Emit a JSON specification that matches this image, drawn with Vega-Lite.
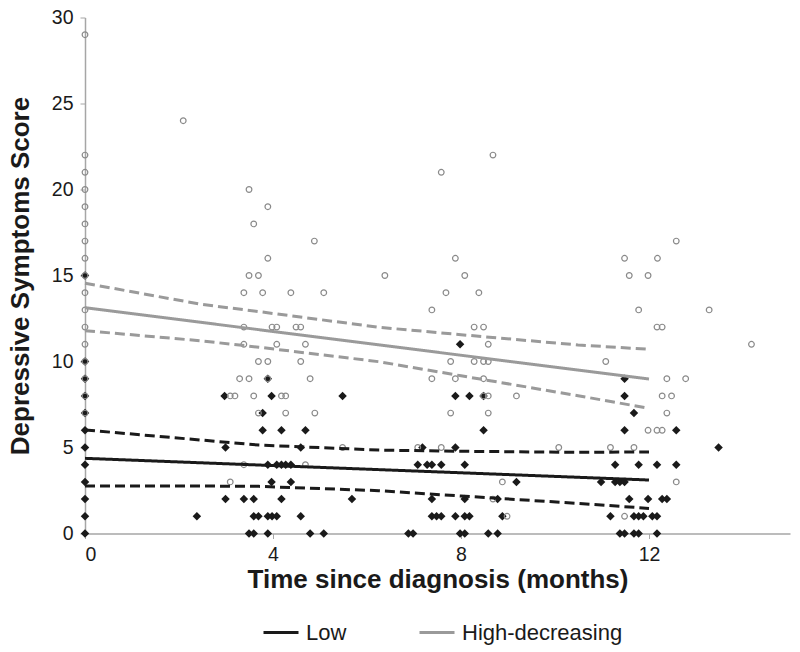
{
  "$schema": "https://vega.github.io/schema/vega-lite/v6.json",
  "autosize": "none",
  "width": 705,
  "height": 516,
  "padding": {"left": 85, "top": 17.5, "right": 10, "bottom": 118.5},
  "background": "white",
  "config": {
    "view": {"stroke": null},
    "font": "Liberation Sans",
    "axis": {
      "grid": false,
      "domainColor": "#a6a6a6",
      "domainWidth": 1.5,
      "tickColor": "#a6a6a6",
      "tickSize": 5,
      "labelFont": "Liberation Sans",
      "labelFontSize": 19.5,
      "labelColor": "#1a1a1a",
      "titleFont": "Liberation Sans",
      "titleFontSize": 26,
      "titleFontWeight": "bold",
      "titleColor": "#1a1a1a"
    }
  },
  "datasets": {
    "high": [
      {"t": 0, "s": 29}, {"t": 0, "s": 22}, {"t": 0, "s": 21}, {"t": 0, "s": 20}, {"t": 0, "s": 19},
      {"t": 0, "s": 18}, {"t": 0, "s": 17}, {"t": 0, "s": 16}, {"t": 0, "s": 15}, {"t": 0, "s": 14},
      {"t": 0, "s": 13}, {"t": 0, "s": 12}, {"t": 0, "s": 11}, {"t": 0, "s": 10}, {"t": 0, "s": 9},
      {"t": 0, "s": 8}, {"t": 0, "s": 7},
      {"t": 2.09, "s": 24},
      {"t": 3.49, "s": 20}, {"t": 3.89, "s": 19}, {"t": 3.59, "s": 18}, {"t": 4.88, "s": 17}, {"t": 3.89, "s": 16},
      {"t": 3.49, "s": 15}, {"t": 3.69, "s": 15}, {"t": 6.38, "s": 15},
      {"t": 3.38, "s": 14}, {"t": 3.78, "s": 14}, {"t": 4.38, "s": 14}, {"t": 5.08, "s": 14},
      {"t": 3.38, "s": 12}, {"t": 3.98, "s": 12}, {"t": 4.08, "s": 12}, {"t": 4.49, "s": 12}, {"t": 4.59, "s": 12},
      {"t": 3.38, "s": 11}, {"t": 4.08, "s": 11}, {"t": 4.69, "s": 11},
      {"t": 3.69, "s": 10}, {"t": 3.89, "s": 10}, {"t": 4.59, "s": 10},
      {"t": 3.29, "s": 9}, {"t": 3.49, "s": 9}, {"t": 3.89, "s": 9}, {"t": 4.79, "s": 9},
      {"t": 3.09, "s": 8}, {"t": 3.19, "s": 8}, {"t": 3.59, "s": 8}, {"t": 4.18, "s": 8}, {"t": 4.27, "s": 8},
      {"t": 3.69, "s": 7}, {"t": 4.27, "s": 7}, {"t": 4.89, "s": 7},
      {"t": 5.48, "s": 5}, {"t": 3.38, "s": 4}, {"t": 4.69, "s": 4}, {"t": 3.09, "s": 3},
      {"t": 8.68, "s": 22}, {"t": 7.58, "s": 21}, {"t": 7.88, "s": 16}, {"t": 8.08, "s": 15},
      {"t": 7.68, "s": 14}, {"t": 8.38, "s": 14}, {"t": 7.38, "s": 13},
      {"t": 8.28, "s": 12}, {"t": 8.48, "s": 12}, {"t": 8.58, "s": 11},
      {"t": 7.78, "s": 10}, {"t": 8.28, "s": 10}, {"t": 8.48, "s": 10}, {"t": 8.58, "s": 10},
      {"t": 7.38, "s": 9}, {"t": 7.88, "s": 9}, {"t": 8.48, "s": 9},
      {"t": 8.48, "s": 8}, {"t": 8.58, "s": 8}, {"t": 9.18, "s": 8},
      {"t": 7.78, "s": 7}, {"t": 8.58, "s": 7},
      {"t": 7.08, "s": 5}, {"t": 7.58, "s": 5}, {"t": 10.08, "s": 5},
      {"t": 8.88, "s": 3}, {"t": 8.68, "s": 2}, {"t": 8.98, "s": 1},
      {"t": 12.58, "s": 17}, {"t": 11.48, "s": 16}, {"t": 12.18, "s": 16}, {"t": 11.58, "s": 15}, {"t": 11.98, "s": 15},
      {"t": 11.78, "s": 13}, {"t": 13.28, "s": 13}, {"t": 12.17, "s": 12}, {"t": 12.28, "s": 12},
      {"t": 14.18, "s": 11}, {"t": 11.08, "s": 10}, {"t": 12.38, "s": 9}, {"t": 12.78, "s": 9},
      {"t": 12.28, "s": 8}, {"t": 12.48, "s": 8}, {"t": 12.38, "s": 7},
      {"t": 11.98, "s": 6}, {"t": 12.17, "s": 6}, {"t": 12.28, "s": 6},
      {"t": 11.18, "s": 5}, {"t": 11.68, "s": 5}, {"t": 12.58, "s": 3}, {"t": 11.48, "s": 1}
    ],
    "low": [
      {"t": 0, "s": 0}, {"t": 0, "s": 1}, {"t": 0, "s": 2}, {"t": 0, "s": 3}, {"t": 0, "s": 4}, {"t": 0, "s": 5},
      {"t": 0, "s": 6}, {"t": 0, "s": 7}, {"t": 0, "s": 8}, {"t": 0, "s": 9}, {"t": 0, "s": 10}, {"t": 0, "s": 15},
      {"t": 2.38, "s": 1},
      {"t": 2.97, "s": 8}, {"t": 3.97, "s": 8}, {"t": 5.48, "s": 8}, {"t": 3.89, "s": 9},
      {"t": 3.78, "s": 7},
      {"t": 3.78, "s": 6}, {"t": 4.18, "s": 6}, {"t": 4.69, "s": 6},
      {"t": 2.99, "s": 5}, {"t": 4.59, "s": 5},
      {"t": 3.89, "s": 4}, {"t": 4.08, "s": 4}, {"t": 4.18, "s": 4}, {"t": 4.27, "s": 4}, {"t": 4.38, "s": 4},
      {"t": 3.97, "s": 3}, {"t": 4.38, "s": 3},
      {"t": 2.99, "s": 2}, {"t": 3.38, "s": 2}, {"t": 3.59, "s": 2}, {"t": 4.18, "s": 2}, {"t": 5.68, "s": 2},
      {"t": 3.59, "s": 1}, {"t": 3.69, "s": 1}, {"t": 3.89, "s": 1}, {"t": 3.98, "s": 1}, {"t": 4.08, "s": 1}, {"t": 4.59, "s": 1},
      {"t": 3.49, "s": 0}, {"t": 3.59, "s": 0}, {"t": 3.89, "s": 0}, {"t": 4.79, "s": 0}, {"t": 5.08, "s": 0},
      {"t": 7.98, "s": 11},
      {"t": 7.88, "s": 8}, {"t": 8.18, "s": 8}, {"t": 8.48, "s": 8},
      {"t": 8.48, "s": 6},
      {"t": 7.18, "s": 5}, {"t": 7.88, "s": 5},
      {"t": 7.08, "s": 4}, {"t": 7.28, "s": 4}, {"t": 7.38, "s": 4}, {"t": 7.58, "s": 4}, {"t": 8.08, "s": 4},
      {"t": 9.18, "s": 3},
      {"t": 7.38, "s": 2}, {"t": 8.08, "s": 2}, {"t": 8.78, "s": 2},
      {"t": 7.38, "s": 1}, {"t": 7.48, "s": 1}, {"t": 7.58, "s": 1}, {"t": 7.88, "s": 1}, {"t": 8.08, "s": 1}, {"t": 8.18, "s": 1}, {"t": 8.88, "s": 1},
      {"t": 6.88, "s": 0}, {"t": 6.98, "s": 0}, {"t": 7.98, "s": 0}, {"t": 8.08, "s": 0}, {"t": 8.58, "s": 0}, {"t": 8.78, "s": 0},
      {"t": 11.48, "s": 9}, {"t": 11.48, "s": 8}, {"t": 11.68, "s": 7}, {"t": 11.48, "s": 6}, {"t": 12.58, "s": 6}, {"t": 13.48, "s": 5},
      {"t": 11.28, "s": 4}, {"t": 11.78, "s": 4}, {"t": 12.17, "s": 4}, {"t": 12.58, "s": 4},
      {"t": 10.98, "s": 3}, {"t": 11.28, "s": 3}, {"t": 11.38, "s": 3}, {"t": 11.48, "s": 3},
      {"t": 11.58, "s": 2}, {"t": 11.98, "s": 2}, {"t": 12.28, "s": 2}, {"t": 12.38, "s": 2},
      {"t": 11.18, "s": 1}, {"t": 11.68, "s": 1}, {"t": 11.78, "s": 1}, {"t": 11.88, "s": 1}, {"t": 12.07, "s": 1}, {"t": 12.17, "s": 1},
      {"t": 11.38, "s": 0}, {"t": 11.48, "s": 0}, {"t": 11.68, "s": 0}, {"t": 11.78, "s": 0}, {"t": 12.17, "s": 0}
    ],
    "lines": [
      {"group": "Low", "band": "fit", "t": 0, "s": 4.37},
      {"group": "Low", "band": "fit", "t": 12, "s": 3.11},
      {"group": "Low", "band": "upper", "t": 0, "s": 6.02},
      {"group": "Low", "band": "upper", "t": 2.44, "s": 5.44},
      {"group": "Low", "band": "upper", "t": 3.7, "s": 5.14},
      {"group": "Low", "band": "upper", "t": 6.25, "s": 4.85},
      {"group": "Low", "band": "upper", "t": 8, "s": 4.78},
      {"group": "Low", "band": "upper", "t": 10.49, "s": 4.72},
      {"group": "Low", "band": "upper", "t": 12, "s": 4.74},
      {"group": "Low", "band": "lower", "t": 0, "s": 2.76},
      {"group": "Low", "band": "lower", "t": 2.44, "s": 2.76},
      {"group": "Low", "band": "lower", "t": 3.7, "s": 2.74},
      {"group": "Low", "band": "lower", "t": 6.25, "s": 2.49},
      {"group": "Low", "band": "lower", "t": 8, "s": 2.18},
      {"group": "Low", "band": "lower", "t": 10.49, "s": 1.75},
      {"group": "Low", "band": "lower", "t": 12, "s": 1.46},
      {"group": "High-decreasing", "band": "fit", "t": 0, "s": 13.13},
      {"group": "High-decreasing", "band": "fit", "t": 12, "s": 8.98},
      {"group": "High-decreasing", "band": "upper", "t": 0, "s": 14.55},
      {"group": "High-decreasing", "band": "upper", "t": 2.44, "s": 13.34},
      {"group": "High-decreasing", "band": "upper", "t": 3.7, "s": 12.9},
      {"group": "High-decreasing", "band": "upper", "t": 6.25, "s": 11.99},
      {"group": "High-decreasing", "band": "upper", "t": 8, "s": 11.56},
      {"group": "High-decreasing", "band": "upper", "t": 10.49, "s": 10.96},
      {"group": "High-decreasing", "band": "upper", "t": 12, "s": 10.71},
      {"group": "High-decreasing", "band": "lower", "t": 0, "s": 11.79},
      {"group": "High-decreasing", "band": "lower", "t": 2.44, "s": 11.21},
      {"group": "High-decreasing", "band": "lower", "t": 3.7, "s": 10.83},
      {"group": "High-decreasing", "band": "lower", "t": 6.25, "s": 9.99},
      {"group": "High-decreasing", "band": "lower", "t": 8, "s": 9.17},
      {"group": "High-decreasing", "band": "lower", "t": 10.49, "s": 8.01},
      {"group": "High-decreasing", "band": "lower", "t": 12, "s": 7.28}
    ]
  },
  "encoding": {
    "x": {
      "field": "t", "type": "quantitative",
      "scale": {"domain": [0, 15], "nice": false, "zero": false},
      "axis": {
        "values": [0, 4, 8, 12],
        "title": "Time since diagnosis (months)",
        "labelPadding": 7,
        "titleX": 352.5, "titleY": 54, "titleBaseline": "alphabetic", "titleAlign": "center"
      }
    },
    "y": {
      "field": "s", "type": "quantitative",
      "scale": {"domain": [0, 30], "nice": false},
      "axis": {
        "values": [0, 5, 10, 15, 20, 25, 30],
        "title": "Depressive Symptoms Score",
        "labelPadding": 7,
        "titleX": -57, "titleY": 258, "titleAngle": -90, "titleBaseline": "alphabetic", "titleAlign": "center"
      }
    }
  },
  "layer": [
    {
      "data": {"name": "low"},
      "mark": {"type": "point", "shape": "diamond", "filled": true, "color": "#1a1a1a", "size": 72, "opacity": 1}
    },
    {
      "data": {"name": "high"},
      "mark": {"type": "point", "shape": "circle", "filled": false, "stroke": "#8a8a8a", "strokeWidth": 1.2, "size": 32, "opacity": 1}
    },
    {
      "data": {"name": "lines"},
      "mark": {"type": "line", "strokeWidth": 3},
      "encoding": {
        "color": {
          "field": "group", "type": "nominal",
          "scale": {"domain": ["Low", "High-decreasing"], "range": ["#1a1a1a", "#9a9a9a"]},
          "legend": {
            "title": null,
            "orient": "none",
            "direction": "horizontal",
            "legendX": 177,
            "legendY": 596,
            "padding": 0,
            "symbolType": "stroke",
            "symbolSize": 1225,
            "symbolStrokeWidth": 3,
            "labelFont": "Liberation Sans",
            "labelFontSize": 22,
            "labelColor": "#1a1a1a",
            "labelLimit": 0,
            "labelOffset": 6,
            "columnPadding": 66
          }
        },
        "strokeDash": {
          "field": "band", "type": "nominal",
          "scale": {"domain": ["fit", "upper", "lower"], "range": [[1, 0], [10, 5], [10, 5]]},
          "legend": null
        },
        "detail": {"field": "band"}
      }
    }
  ]
}
